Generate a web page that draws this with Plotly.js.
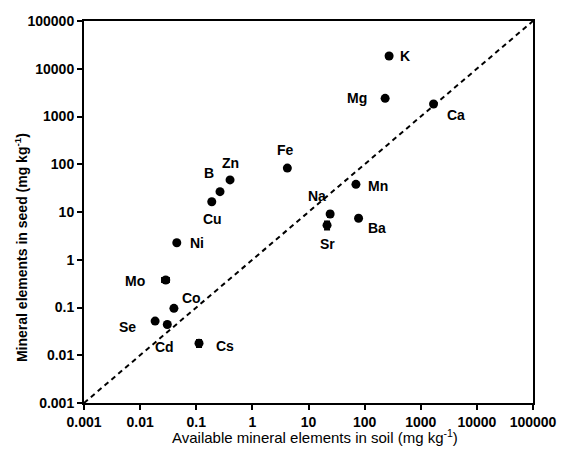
<!DOCTYPE html>
<html>
<head>
<meta charset="utf-8">
<script src="https://cdn.plot.ly/plotly-3.0.1.min.js"></script>
<style>html,body{margin:0;padding:0;background:#fff;}#chart{width:561px;height:451px;}</style>
</head>
<body>
<div id="chart"></div>
<script>
const elements = ["K","Mg","Ca","Fe","Mn","Na","Sr","Ba","Zn","B","Cu","Ni","Mo","Co","Se","Cd","Cs"];
const soil = [273, 232, 1690, 4.2, 70, 24.3, 21.4, 78, 0.40, 0.265, 0.189, 0.045, 0.0286, 0.040, 0.0185, 0.0305, 0.112];
const seed = [18500, 2400, 1830, 83, 38, 9.1, 5.3, 7.4, 47, 26.7, 16.4, 2.27, 0.377, 0.096, 0.052, 0.044, 0.0178];
const soilErr = [25, 0, 0, 0.4, 0, 0, 0, 0, 0, 0, 0, 0, 0.004, 0, 0, 0, 0];
const seedErr = [0, 0, 0, 0, 0, 1.2, 1.0, 0, 0, 0, 0, 0, 0, 0, 0, 0, 0.003];
const tickVals = [0.001, 0.01, 0.1, 1, 10, 100, 1000, 10000, 100000];
const tickText = ["0.001", "0.01", "0.1", "1", "10", "100", "1000", "10000", "100000"];
const oneToOne = [0.001, 100000];
const xTitle = "Available mineral elements in soil (mg kg<sup>-1</sup>)";
const yTitle = "<b>Mineral elements in seed (mg kg<sup>-1</sup>)</b>";

// label offsets in pixels (style only)
const labelShift = {
  K:[16,0], Mg:[-28,0], Ca:[22,11], Fe:[-2,-18], Mn:[22,2], Na:[-13,-18], Sr:[0,19],
  Ba:[18,10], Zn:[0,-17], B:[-11,-19], Cu:[1,17], Ni:[20,0], Mo:[-31,1], Co:[18,-10],
  Se:[-28,6], Cd:[-3,22], Cs:[26,3]
};

const FAM = "Liberation Sans, Arial, sans-serif";
const lblFont = {family: FAM, size: 14, color: "#000", weight: "bold"};
const annotations = elements.map((el, i) => ({
  x: Math.log10(soil[i]), y: Math.log10(seed[i]), xref: "x", yref: "y",
  text: "<b>" + el + "</b>", showarrow: false,
  xshift: labelShift[el][0], yshift: -labelShift[el][1],
  font: lblFont
}));
annotations.push({
  xref: "paper", yref: "paper", x: 0.514, y: -0.118, xanchor: "center", yanchor: "bottom",
  text: xTitle, showarrow: false, font: {family: FAM, size: 15, color: "#000"}
});
annotations.push({
  xref: "paper", yref: "paper", x: -0.14, y: 0.406, xanchor: "center", yanchor: "middle",
  text: yTitle, textangle: -90, showarrow: false, font: {family: FAM, size: 14, color: "#000"}
});

const traces = [
  {
    x: oneToOne, y: oneToOne, mode: "lines", type: "scatter",
    line: {color: "#000", width: 2, dash: "5px,4px"}, hoverinfo: "skip", showlegend: false
  },
  {
    x: soil, y: seed, mode: "markers", type: "scatter", showlegend: false,
    marker: {color: "#000", size: 9, symbol: "circle"},
    error_x: {type: "data", array: soilErr, visible: true, color: "#000", thickness: 2, width: 3},
    error_y: {type: "data", array: seedErr, visible: true, color: "#000", thickness: 2, width: 3}
  }
];

const tickFont = {family: FAM, size: 14, color: "#000", weight: "bold"};
const layout = {
  width: 561, height: 451,
  margin: {l: 84, r: 28, t: 21, b: 48},
  paper_bgcolor: "#fff", plot_bgcolor: "#fff",
  showlegend: false,
  xaxis: {
    type: "log", range: [-3, 5], tickmode: "array", tickvals: tickVals, ticktext: tickText,
    ticks: "outside", ticklen: 5, tickwidth: 2, tickcolor: "#000",
    showline: true, linecolor: "#000", linewidth: 2, mirror: true,
    showgrid: false, zeroline: false, tickfont: tickFont
  },
  yaxis: {
    type: "log", range: [-3, 5], tickmode: "array", tickvals: tickVals, ticktext: tickText,
    ticks: "outside", ticklen: 5, tickwidth: 2, tickcolor: "#000",
    showline: true, linecolor: "#000", linewidth: 2, mirror: true,
    showgrid: false, zeroline: false, tickfont: tickFont
  },
  annotations: annotations
};

Plotly.newPlot("chart", traces, layout, {displayModeBar: false, staticPlot: true});
</script>
</body>
</html>
